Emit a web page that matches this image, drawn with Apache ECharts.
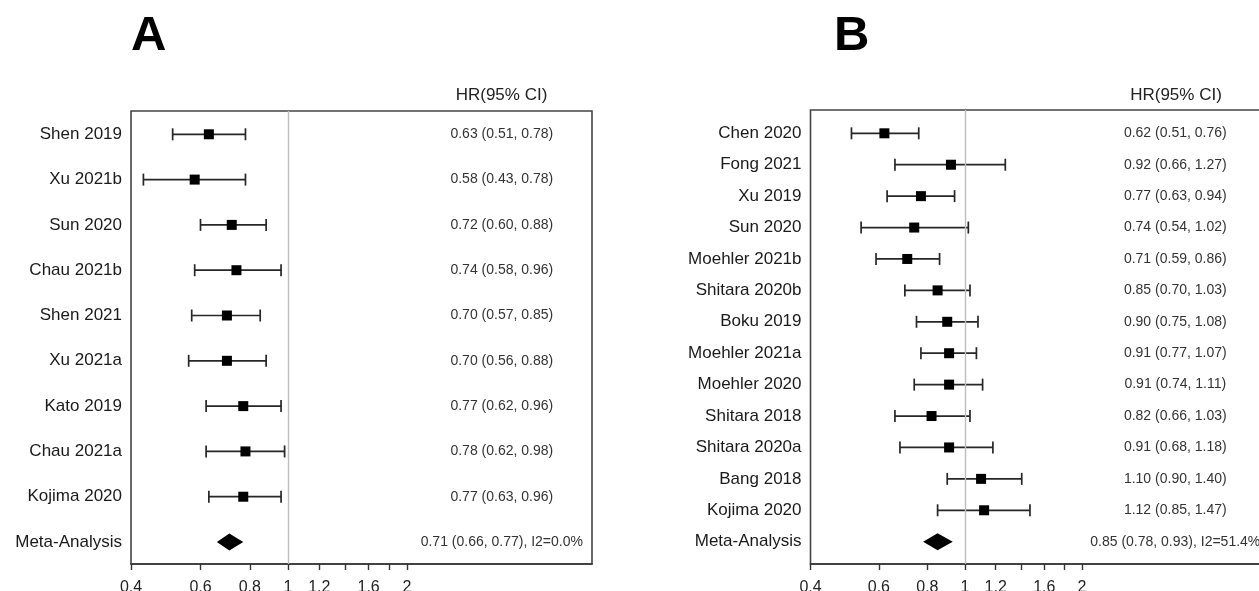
<!DOCTYPE html>
<html>
<head>
<meta charset="utf-8">
<script src="https://cdn.jsdelivr.net/npm/echarts@6/dist/echarts.min.js"></script>
<style>
html,body{margin:0;padding:0;background:#fff;}
#chart{width:1259px;height:591px;}
</style>
</head>
<body>
<div id="chart"></div>
<script>
// ---------- Panel A data ----------
const studiesA = ['Shen 2019','Xu 2021b','Sun 2020','Chau 2021b','Shen 2021','Xu 2021a','Kato 2019','Chau 2021a','Kojima 2020'];
const hrA = [0.63,0.58,0.72,0.74,0.70,0.70,0.77,0.78,0.77];
const loA = [0.51,0.43,0.60,0.58,0.57,0.56,0.62,0.62,0.63];
const hiA = [0.78,0.78,0.88,0.96,0.85,0.88,0.96,0.98,0.96];
const metaA = [0.71,0.66,0.77];
const i2A = '0.0%';

// ---------- Panel B data ----------
const studiesB = ['Chen 2020','Fong 2021','Xu 2019','Sun 2020','Moehler 2021b','Shitara 2020b','Boku 2019','Moehler 2021a','Moehler 2020','Shitara 2018','Shitara 2020a','Bang 2018','Kojima 2020'];
const hrB = [0.62,0.92,0.77,0.74,0.71,0.85,0.90,0.91,0.91,0.82,0.91,1.10,1.12];
const loB = [0.51,0.66,0.63,0.54,0.59,0.70,0.75,0.77,0.74,0.66,0.68,0.90,0.85];
const hiB = [0.76,1.27,0.94,1.02,0.86,1.03,1.08,1.07,1.11,1.03,1.18,1.40,1.47];
const metaB = [0.85,0.78,0.93];
const i2B = '51.4%';

const xLabelValues = [0.4,0.6,0.8,1,1.2,1.6,2];
const xTickValues = [0.4,0.6,0.8,1,1.2,1.4,1.6,1.8,2];
const metaLabel = 'Meta-Analysis';
const headerText = 'HR(95% CI)';

// ---------- layout constants ----------
const FONT = '"Liberation Sans", Arial, Helvetica, sans-serif';
const X_MIN = 0.4, X_MAX = 5.89, TEXT_COL = 3.48;

function fmt(v){ return v.toFixed(2); }

function buildPanel(names, hr, lo, hi, meta, i2){
  const labels = names.concat([metaLabel]);
  const rows = [];
  const texts = [];
  for (let i = 0; i < names.length; i++) {
    rows.push([i + 1, hr[i], lo[i], hi[i], 0]);
    texts.push(fmt(hr[i]) + ' (' + fmt(lo[i]) + ', ' + fmt(hi[i]) + ')');
  }
  rows.push([names.length + 1, meta[0], meta[1], meta[2], 1]);
  texts.push(fmt(meta[0]) + ' (' + fmt(meta[1]) + ', ' + fmt(meta[2]) + '), I2=' + i2);
  return {labels, rows, texts};
}

const pA = buildPanel(studiesA, hrA, loA, hiA, metaA, i2A);
const pB = buildPanel(studiesB, hrB, loB, hiB, metaB, i2B);

function forestRender(params, api){
  const row = api.value(0);
  const c = api.coord([api.value(1), row]);
  const l = api.coord([api.value(2), row]);
  const h = api.coord([api.value(3), row]);
  const y = c[1];
  if (api.value(4) === 1) {
    return {type:'polygon', shape:{points:[[l[0],y],[c[0],y-8.5],[h[0],y],[c[0],y+8.5]]}, style:{fill:'#000'}};
  }
  const ls = {stroke:'#262626', lineWidth:1.7};
  return {type:'group', children:[
    {type:'line', shape:{x1:l[0],y1:y,x2:h[0],y2:y}, style:ls},
    {type:'line', shape:{x1:l[0],y1:y-6,x2:l[0],y2:y+6}, style:ls},
    {type:'line', shape:{x1:h[0],y1:y-6,x2:h[0],y2:y+6}, style:ls},
    {type:'rect', shape:{x:c[0]-5,y:y-5,width:10,height:10}, style:{fill:'#000'}}
  ]};
}

function textRenderFactory(texts){
  return function(params, api){
    const p = api.coord([TEXT_COL, api.value(0)]);
    return {type:'text', x:p[0], y:p[1], style:{text:texts[params.dataIndex], align:'center', verticalAlign:'middle', fontSize:14, fontFamily:FONT, fill:'#333'}};
  };
}

function xAxisDef(gi){
  return {
    type:'log', gridIndex:gi, min:X_MIN, max:X_MAX, logBase:10,
    axisLine:{show:true, lineStyle:{color:'#333', width:1.6}},
    axisTick:{show:true, inside:false, length:6, customValues:xTickValues, lineStyle:{color:'#333', width:1.4}},
    axisLabel:{show:true, customValues:xLabelValues, margin:16, fontSize:16, fontFamily:FONT, color:'#222',
      formatter:function(v){ return String(+(+v).toFixed(1)); }},
    splitLine:{show:false}, minorTick:{show:false}, minorSplitLine:{show:false}
  };
}

function yAxisDef(gi, labels, mn, mx){
  const vals = labels.map((_, i) => i + 1);
  return {
    type:'value', gridIndex:gi, inverse:true, min:mn, max:mx,
    axisLine:{show:false}, axisTick:{show:false}, splitLine:{show:false},
    axisLabel:{show:true, customValues:vals, margin:9, fontSize:17, fontFamily:FONT, color:'#1a1a1a',
      formatter:function(v){ return labels[Math.round(v) - 1] || ''; }}
  };
}

const refLine = {silent:true, symbol:'none', label:{show:false}, animation:false,
  lineStyle:{color:'#bdbdbd', width:1.4, type:'solid'}, data:[{xAxis:1}]};

const option = {
  animation:false,
  backgroundColor:'#fff',
  grid:[
    {left:131, right:667, top:111, bottom:27, outerBoundsMode:'none', containLabel:false, show:true, borderColor:'#444', borderWidth:1.6, backgroundColor:'transparent'},
    {left:810.5, right:-5, top:110, bottom:27, outerBoundsMode:'none', containLabel:false, show:true, borderColor:'#444', borderWidth:1.6, backgroundColor:'transparent'}
  ],
  xAxis:[xAxisDef(0), xAxisDef(1)],
  yAxis:[yAxisDef(0, pA.labels, 0.486, 10.485), yAxisDef(1, pB.labels, 0.258, 14.71)],
  graphic:[
    {type:'text', x:131, y:36, style:{text:'A', font:'bold 49px ' + FONT, fill:'#000', align:'left', verticalAlign:'middle'}},
    {type:'text', x:834, y:36, style:{text:'B', font:'bold 49px ' + FONT, fill:'#000', align:'left', verticalAlign:'middle'}},
    {type:'text', x:501.5, y:95, style:{text:headerText, fontSize:17, fontFamily:FONT, fill:'#222', align:'center', verticalAlign:'middle'}},
    {type:'text', x:1176, y:95, style:{text:headerText, fontSize:17, fontFamily:FONT, fill:'#222', align:'center', verticalAlign:'middle'}}
  ],
  series:[
    {type:'custom', xAxisIndex:0, yAxisIndex:0, data:pA.rows, encode:{x:[1,2,3], y:0}, renderItem:forestRender, markLine:refLine, clip:false},
    {type:'custom', xAxisIndex:0, yAxisIndex:0, data:pA.rows, encode:{x:1, y:0}, renderItem:textRenderFactory(pA.texts), clip:false},
    {type:'custom', xAxisIndex:1, yAxisIndex:1, data:pB.rows, encode:{x:[1,2,3], y:0}, renderItem:forestRender, markLine:refLine, clip:false},
    {type:'custom', xAxisIndex:1, yAxisIndex:1, data:pB.rows, encode:{x:1, y:0}, renderItem:textRenderFactory(pB.texts), clip:false}
  ]
};

const chart = echarts.init(document.getElementById('chart'), null, {renderer:'canvas'});
chart.setOption(option);
</script>
</body>
</html>
